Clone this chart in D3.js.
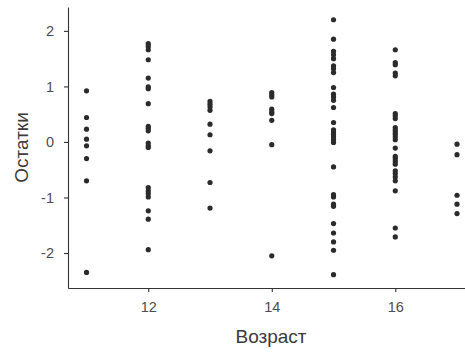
<!DOCTYPE html>
<html>
<head>
<meta charset="utf-8">
<script src="https://cdn.jsdelivr.net/npm/d3@7"></script>
<style>
  body { margin: 0; background: #fff; }
  svg { font-family: "Liberation Sans", Arial, sans-serif; }
</style>
</head>
<body>
<div id="chart"></div>
<script>
// residuals grouped by age
const ages = [11, 12, 13, 14, 15, 16, 17];
const resid11 = [0.92, 0.44, 0.23, 0.05, -0.07, -0.30, -0.70, -2.35];
const resid12 = [1.77, 1.72, 1.66, 1.48, 1.15, 0.99, 0.96, 0.69, 0.28, 0.24, 0.20, -0.02, -0.07, -0.10,
  -0.82, -0.88, -0.93, -0.99, -1.24, -1.39, -1.94];
const resid13 = [0.73, 0.68, 0.63, 0.57, 0.32, 0.13, -0.16, -0.73, -1.19];
const resid14 = [0.89, 0.85, 0.81, 0.59, 0.54, 0.51, 0.39, -0.05, -2.05];
const resid15 = [2.20, 1.85, 1.63, 1.57, 1.50, 1.37, 1.32, 1.25, 0.98, 0.86, 0.81, 0.75, 0.62, 0.35,
  0.22, 0.18, 0.14, 0.09, 0.04, -0.01, -0.45, -0.95, -0.99, -1.12, -1.16, -1.47, -1.64, -1.80, -1.95, -2.39];
const resid16 = [1.66, 1.43, 1.39, 1.24, 1.19, 0.51, 0.47, 0.42, 0.26, 0.22, 0.18, 0.14, 0.09, 0.04,
  -0.11, -0.26, -0.30, -0.35, -0.40, -0.52, -0.57, -0.63, -0.70, -0.88, -1.55, -1.71];
const resid17 = [-0.04, -0.23, -0.96, -1.12, -1.29];
const xTicks = [12, 14, 16];
const yTicks = [-2, -1, 0, 1, 2];
const xTitle = 'Возраст';
const yTitle = 'Остатки';

const groups = [resid11, resid12, resid13, resid14, resid15, resid16, resid17];
const points = [];
groups.forEach((g, i) => g.forEach(v => points.push({ x: ages[i], y: v })));

const width = 465;
const height = 352;
const margin = { top: 7, left: 68, bottom: 64 };

const svg = d3.select('#chart')
  .append('svg')
  .attr('width', width)
  .attr('height', height);

// ggplot-like 5% expansion, right edge runs past the window
const xScale = d3.scaleLinear()
  .domain([10.7, 17.3])
  .range([margin.left, margin.left + 6.6 * 61.75]);

const yScale = d3.scaleLinear()
  .domain([-2.63, 2.43])
  .range([height - margin.bottom, margin.top]);

const axisColor = '#333333';
const tickText = '#4d4d4d';

// x axis
const xAxisGroup = svg.append('g')
  .attr('transform', `translate(0, ${height - margin.bottom})`)
  .call(d3.axisBottom(xScale).tickValues(xTicks).tickSize(4).tickPadding(10).tickSizeOuter(0)
    .tickFormat(d3.format('d')));
xAxisGroup.select('.domain').attr('stroke', axisColor).attr('stroke-width', 1.1);
xAxisGroup.selectAll('.tick line').attr('stroke', axisColor).attr('stroke-width', 1.1);
xAxisGroup.selectAll('text')
  .attr('fill', tickText)
  .attr('font-size', 14.5);

// y axis
const yAxisGroup = svg.append('g')
  .attr('transform', `translate(${margin.left}, 0)`)
  .call(d3.axisLeft(yScale).tickValues(yTicks).tickSize(4).tickPadding(10).tickSizeOuter(0)
    .tickFormat(d => String(d)));
yAxisGroup.select('.domain').attr('stroke', axisColor).attr('stroke-width', 1.1);
yAxisGroup.selectAll('.tick line').attr('stroke', axisColor).attr('stroke-width', 1.1);
yAxisGroup.selectAll('text')
  .attr('fill', tickText)
  .attr('font-size', 14.5);

// axis titles
svg.append('text')
  .attr('x', 271)
  .attr('y', 343)
  .attr('text-anchor', 'middle')
  .attr('font-size', 19)
  .attr('fill', '#3a3a3a')
  .text(xTitle);

svg.append('text')
  .attr('transform', `translate(28, ${(yScale.range()[0] + yScale.range()[1]) / 2}) rotate(-90)`)
  .attr('text-anchor', 'middle')
  .attr('font-size', 19)
  .attr('fill', '#3a3a3a')
  .text(yTitle);

// points
svg.append('g')
  .selectAll('circle')
  .data(points)
  .enter()
  .append('circle')
  .attr('cx', d => xScale(d.x))
  .attr('cy', d => yScale(d.y))
  .attr('r', 2.6)
  .attr('fill', '#2b2b2b');
</script>
</body>
</html>
